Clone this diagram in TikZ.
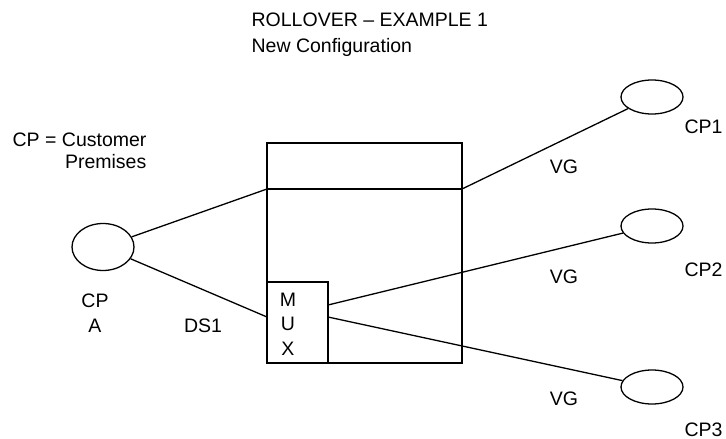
\documentclass[tikz,border=0pt]{standalone}
\usepackage{fontspec}
\setmainfont{Liberation Sans}
\usepackage{tikz}
\usetikzlibrary{shapes.geometric,positioning,calc}

\begin{document}
\begin{tikzpicture}[x=1pt,y=-1pt,line width=1.3pt,
    site/.style={draw,ellipse,minimum width=62pt,inner sep=0pt},
    lbl/.style={font=\fontsize{19.5}{24.5}\selectfont,inner sep=0pt,anchor=base}]
  \useasboundingbox (0,0) rectangle (726,439);
  % title and legend
  \node[lbl,anchor=base west] (title) at (251,27) {ROLLOVER -- EXAMPLE 1};
  \node[lbl,anchor=base west] (subtitle) at (251,52) {New Configuration};
  \node[lbl,anchor=base west] (legend1) at (12,146) {CP = Customer};
  \node[lbl,anchor=base east] (legend2) at (147,168) {Premises};
  % switch with mux
  \node[draw,minimum width=195pt,minimum height=220pt,inner sep=0pt] (box) at (364.5,253) {};
  \coordinate (divL) at (267,189);
  \coordinate (divR) at (462,189);
  \draw (divL) -- (divR);
  \node[draw,minimum width=61pt,minimum height=81pt,inner sep=0pt] (mux) at (297.5,322.5) {};
  \node[lbl,align=center,anchor=center] (muxtext) at (288,324) {M\\U\\X};
  \coordinate (muxin) at (267,317);
  \coordinate (muxo2) at (328,305);
  \coordinate (muxo3) at (328,317);
  % customer premises
  \node[site,minimum height=47pt] (cpA) at (103,247) {};
  \foreach \name/\cy in {cp1/97, cp2/226, cp3/387} {
    \node[site,minimum height=34pt] (\name) at (652,\cy) {};
  }
  \node[lbl] (cpAtop) at (95,307) {CP};
  \node[lbl] (cpAbot) at (95,332) {A};
  \node[lbl] (ds1) at (203,332) {DS1};
  \foreach \i/\by in {1/133, 2/276, 3/436} {
    \node[lbl,anchor=base west] (cplbl\i) at (684,\by) {CP\i};
  }
  \foreach \i/\by in {1/173, 2/283, 3/405} {
    \node[lbl] (vg\i) at (564,\by) {VG};
  }
  % links
  \draw (cpA) -- (divL);
  \draw (divR) -- (cp1);
  \draw (cpA) -- (muxin);
  \draw (muxo2) -- (cp2);
  \draw (muxo3) -- (cp3);
\end{tikzpicture}
\end{document}
